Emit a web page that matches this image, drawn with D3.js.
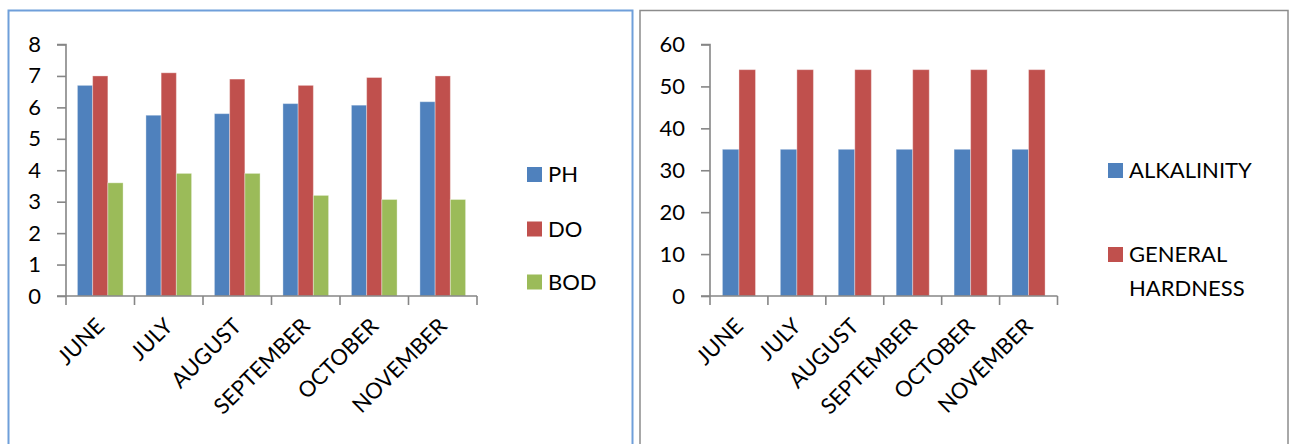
<!DOCTYPE html>
<html>
<head>
<meta charset="utf-8">
<script src="https://cdn.jsdelivr.net/npm/d3@7"></script>
<style>
  html, body { margin: 0; padding: 0; background: #ffffff; }
  svg { display: block; }
  text { font-family: Lato, "Open Sans", sans-serif; fill: #000; }
</style>
</head>
<body>
<svg id="chart" width="1290" height="444"></svg>
<script>
// Monthly water quality readings
const months = ["JUNE", "JULY", "AUGUST", "SEPTEMBER", "OCTOBER", "NOVEMBER"];

// Left chart series
const phValues  = [6.7, 5.75, 5.8, 6.12, 6.07, 6.18];
const doValues  = [7.0, 7.1, 6.9, 6.7, 6.95, 7.0];
const bodValues = [3.6, 3.9, 3.9, 3.2, 3.07, 3.07];
const leftTicks = [0, 1, 2, 3, 4, 5, 6, 7, 8];

// Right chart series
const alkalinityValues = [35, 35, 35, 35, 35, 35];
const hardnessValues   = [54, 54, 54, 54, 54, 54];
const rightTicks = [0, 10, 20, 30, 40, 50, 60];

const svg = d3.select("#chart");
const FONT = 22;

// Panel frames (open at the bottom, they continue past the view)
svg.append("rect")
  .attr("x", 8.5).attr("y", 10.5).attr("width", 624).attr("height", 470)
  .attr("fill", "#fff").attr("stroke", "#6f9fda").attr("stroke-width", 2);
svg.append("rect")
  .attr("x", 640).attr("y", 10.5).attr("width", 648).attr("height", 470)
  .attr("fill", "#fff").attr("stroke", "#8c8c8c").attr("stroke-width", 1.5);

function drawChart(opts) {
  const g = svg.append("g");
  const x0 = d3.scaleBand()
    .domain(opts.categories)
    .range([opts.left, opts.right])
    .paddingInner(0).paddingOuter(0);

  const nSeries = opts.series.length;
  const slotCount = nSeries + 1.5; // 150% gap between clusters
  const barW = x0.bandwidth() / slotCount;
  const x1 = d3.scaleBand()
    .domain(d3.range(nSeries))
    .range([barW * 0.75, barW * 0.75 + barW * nSeries]);

  const y = d3.scaleLinear()
    .domain([opts.ticks[0], opts.ticks[opts.ticks.length - 1]])
    .range([opts.bottom, opts.top]);

  // Bars
  opts.series.forEach((s, si) => {
    g.append("g")
      .selectAll("rect")
      .data(s.values)
      .join("rect")
      .attr("x", (d, i) => x0(opts.categories[i]) + x1(si))
      .attr("y", d => y(d))
      .attr("width", x1.bandwidth())
      .attr("height", d => y(0) - y(d))
      .attr("fill", s.color)
      .attr("stroke", "rgba(255,255,255,0.35)")
      .attr("stroke-width", 1);
  });

  // Y axis
  const yAxis = d3.axisLeft(y)
    .tickValues(opts.ticks)
    .tickSize(9)
    .tickPadding(16)
    .tickFormat(d3.format("d"));
  const ya = g.append("g")
    .attr("transform", `translate(${opts.left},0)`)
    .call(yAxis);
  ya.select(".domain").attr("stroke", "#868686").attr("stroke-width", 1.6)
    .attr("d", `M-9,${y.range()[1]}H0V${y.range()[0]}`);
  ya.selectAll(".tick line").attr("stroke", "#868686").attr("stroke-width", 1.6);
  ya.selectAll(".tick text")
    .style("font-size", FONT + "px")
    .attr("fill", "#000");

  // X axis: ticks on the cluster boundaries
  const boundaries = opts.categories.map(c => x0(c)).concat([opts.right]);
  const xa = g.append("g");
  xa.append("line")
    .attr("x1", opts.left - 9).attr("x2", opts.right)
    .attr("y1", opts.bottom).attr("y2", opts.bottom)
    .attr("stroke", "#868686").attr("stroke-width", 1.6);
  xa.selectAll("line.tk")
    .data(boundaries)
    .join("line")
    .attr("class", "tk")
    .attr("x1", d => d).attr("x2", d => d)
    .attr("y1", opts.bottom).attr("y2", opts.bottom + 9)
    .attr("stroke", "#868686").attr("stroke-width", 1.6);

  // Rotated category labels
  xa.selectAll("text")
    .data(opts.categories)
    .join("text")
    .attr("transform", d => `translate(${x0(d) + x0.bandwidth() / 2},${opts.bottom + 26}) rotate(-45)`)
    .attr("text-anchor", "end")
    .attr("dy", "0.35em")
    .style("font-size", FONT + "px")
    .text(d => d);

  // Legend
  const lg = g.append("g");
  opts.series.forEach((s, si) => {
    const cy = opts.legendY[si];
    lg.append("rect")
      .attr("x", opts.legendX).attr("y", cy - 7.5)
      .attr("width", 15).attr("height", 15)
      .attr("fill", s.color);
    const t = lg.append("text")
      .attr("x", opts.legendX + 21)
      .attr("y", cy)
      .attr("dy", "0.35em")
      .style("font-size", FONT + "px");
    s.name.forEach((line, li) => {
      t.append("tspan")
        .attr("x", opts.legendX + 21)
        .attr("dy", li === 0 ? "0.35em" : "34px")
        .text(line);
    });
    t.attr("dy", null);
  });
}

drawChart({
  categories: months,
  ticks: leftTicks,
  left: 66, right: 477, top: 44.5, bottom: 296,
  series: [
    { name: ["PH"],  values: phValues,  color: "#4F81BD" },
    { name: ["DO"],  values: doValues,  color: "#C0504D" },
    { name: ["BOD"], values: bodValues, color: "#9BBB59" }
  ],
  legendX: 527, legendY: [174.5, 229, 282]
});

drawChart({
  categories: months,
  ticks: rightTicks,
  left: 710, right: 1057.5, top: 44.5, bottom: 296,
  series: [
    { name: ["ALKALINITY"], values: alkalinityValues, color: "#4F81BD" },
    { name: ["GENERAL", "HARDNESS"], values: hardnessValues, color: "#C0504D" }
  ],
  legendX: 1108, legendY: [170.5, 254.5]
});
</script>
</body>
</html>
